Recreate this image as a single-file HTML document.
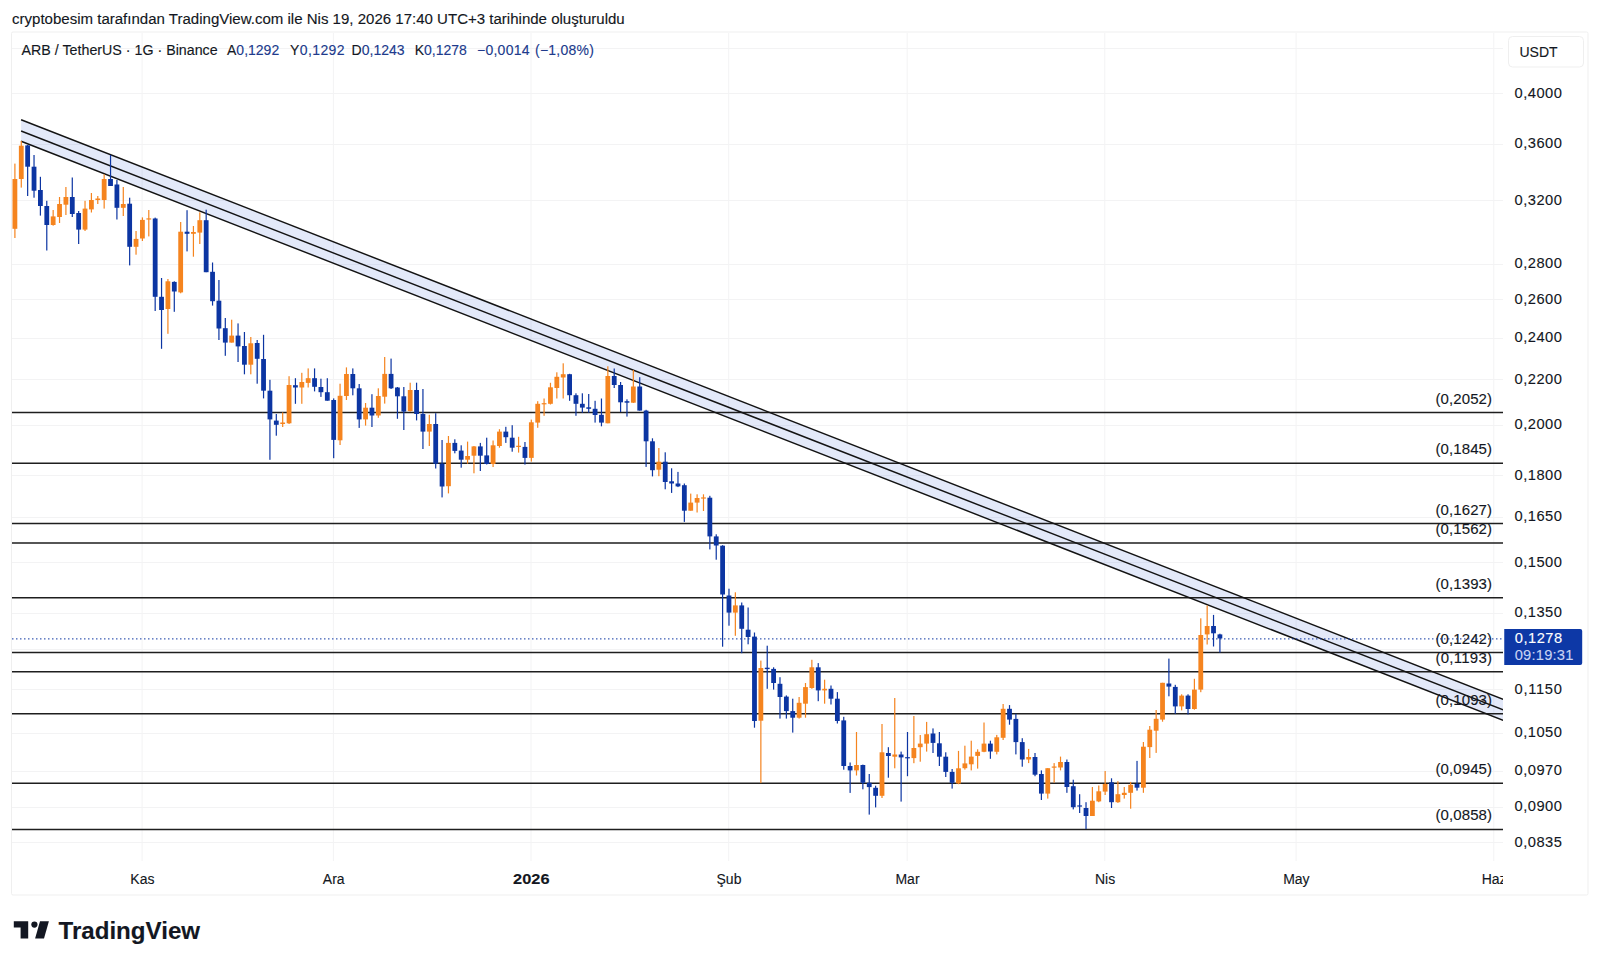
<!DOCTYPE html><html><head><meta charset="utf-8"><style>html,body{margin:0;padding:0;background:#fff;width:1600px;height:966px;overflow:hidden}svg{display:block}text{font-family:"Liberation Sans",sans-serif;stroke-width:0.12px}</style></head><body>
<svg width="1600" height="966" viewBox="0 0 1600 966">
<text x="12" y="24" font-size="14" fill="#131722" textLength="612.7" lengthAdjust="spacingAndGlyphs" stroke="#131722">cryptobesim tarafından TradingView.com ile Nis 19, 2026 17:40 UTC+3 tarihinde oluşturuldu</text>
<rect x="11.5" y="32" width="1576.5" height="863" rx="1.5" fill="#fff" stroke="#efefef" stroke-width="1"/>
<defs><clipPath id="pc"><rect x="12" y="33" width="1491" height="828"/></clipPath></defs>
<g clip-path="url(#pc)">
<line x1="12" y1="48.5" x2="1503" y2="48.5" stroke="#f3f3f4" stroke-width="1"/>
<line x1="12" y1="93.5" x2="1503" y2="93.5" stroke="#f3f3f4" stroke-width="1"/>
<line x1="12" y1="144.5" x2="1503" y2="144.5" stroke="#f3f3f4" stroke-width="1"/>
<line x1="12" y1="200.5" x2="1503" y2="200.5" stroke="#f3f3f4" stroke-width="1"/>
<line x1="12" y1="264.5" x2="1503" y2="264.5" stroke="#f3f3f4" stroke-width="1"/>
<line x1="12" y1="299.5" x2="1503" y2="299.5" stroke="#f3f3f4" stroke-width="1"/>
<line x1="12" y1="338.5" x2="1503" y2="338.5" stroke="#f3f3f4" stroke-width="1"/>
<line x1="12" y1="379.5" x2="1503" y2="379.5" stroke="#f3f3f4" stroke-width="1"/>
<line x1="12" y1="425.5" x2="1503" y2="425.5" stroke="#f3f3f4" stroke-width="1"/>
<line x1="12" y1="475.5" x2="1503" y2="475.5" stroke="#f3f3f4" stroke-width="1"/>
<line x1="12" y1="517.5" x2="1503" y2="517.5" stroke="#f3f3f4" stroke-width="1"/>
<line x1="12" y1="562.5" x2="1503" y2="562.5" stroke="#f3f3f4" stroke-width="1"/>
<line x1="12" y1="613.5" x2="1503" y2="613.5" stroke="#f3f3f4" stroke-width="1"/>
<line x1="12" y1="649.5" x2="1503" y2="649.5" stroke="#f3f3f4" stroke-width="1"/>
<line x1="12" y1="689.5" x2="1503" y2="689.5" stroke="#f3f3f4" stroke-width="1"/>
<line x1="12" y1="733.5" x2="1503" y2="733.5" stroke="#f3f3f4" stroke-width="1"/>
<line x1="12" y1="771.5" x2="1503" y2="771.5" stroke="#f3f3f4" stroke-width="1"/>
<line x1="12" y1="807.5" x2="1503" y2="807.5" stroke="#f3f3f4" stroke-width="1"/>
<line x1="12" y1="842.5" x2="1503" y2="842.5" stroke="#f3f3f4" stroke-width="1"/>
<line x1="142.1" y1="33" x2="142.1" y2="861" stroke="#f3f3f4" stroke-width="1"/>
<line x1="333.4" y1="33" x2="333.4" y2="861" stroke="#f3f3f4" stroke-width="1"/>
<line x1="531.0" y1="33" x2="531.0" y2="861" stroke="#f3f3f4" stroke-width="1"/>
<line x1="728.7" y1="33" x2="728.7" y2="861" stroke="#f3f3f4" stroke-width="1"/>
<line x1="907.2" y1="33" x2="907.2" y2="861" stroke="#f3f3f4" stroke-width="1"/>
<line x1="1104.8" y1="33" x2="1104.8" y2="861" stroke="#f3f3f4" stroke-width="1"/>
<line x1="1296.1" y1="33" x2="1296.1" y2="861" stroke="#f3f3f4" stroke-width="1"/>
<line x1="1493.8" y1="33" x2="1493.8" y2="861" stroke="#f3f3f4" stroke-width="1"/>
<polygon points="21.1,119.7 1503.1,699.2 1503.1,720.2 21.1,141.2" fill="#1848cc" fill-opacity="0.12"/>
<line x1="12" y1="412.48" x2="1503" y2="412.48" stroke="#1e1e1e" stroke-width="1.6"/>
<line x1="12" y1="463.32" x2="1503" y2="463.32" stroke="#1e1e1e" stroke-width="1.6"/>
<line x1="12" y1="523.45" x2="1503" y2="523.45" stroke="#1e1e1e" stroke-width="1.6"/>
<line x1="12" y1="542.95" x2="1503" y2="542.95" stroke="#1e1e1e" stroke-width="1.6"/>
<line x1="12" y1="597.70" x2="1503" y2="597.70" stroke="#1e1e1e" stroke-width="1.6"/>
<line x1="12" y1="652.57" x2="1503" y2="652.57" stroke="#1e1e1e" stroke-width="1.6"/>
<line x1="12" y1="671.82" x2="1503" y2="671.82" stroke="#1e1e1e" stroke-width="1.6"/>
<line x1="12" y1="713.68" x2="1503" y2="713.68" stroke="#1e1e1e" stroke-width="1.6"/>
<line x1="12" y1="783.25" x2="1503" y2="783.25" stroke="#1e1e1e" stroke-width="1.6"/>
<line x1="12" y1="829.44" x2="1503" y2="829.44" stroke="#1e1e1e" stroke-width="1.6"/>
<line x1="21.1" y1="119.7" x2="1503.1" y2="699.2" stroke="#131313" stroke-width="1.45"/>
<line x1="21.1" y1="131.0" x2="1503.1" y2="709.8" stroke="#131313" stroke-width="1.45"/>
<line x1="21.1" y1="141.2" x2="1503.1" y2="720.2" stroke="#131313" stroke-width="1.45"/>
<text x="1435.5" y="403.5" font-size="15" fill="#131722" textLength="56.5" lengthAdjust="spacing" stroke="#131722">(0,2052)</text>
<text x="1435.5" y="454.3" font-size="15" fill="#131722" textLength="56.5" lengthAdjust="spacing" stroke="#131722">(0,1845)</text>
<text x="1435.5" y="514.5" font-size="15" fill="#131722" textLength="56.5" lengthAdjust="spacing" stroke="#131722">(0,1627)</text>
<text x="1435.5" y="533.9" font-size="15" fill="#131722" textLength="56.5" lengthAdjust="spacing" stroke="#131722">(0,1562)</text>
<text x="1435.5" y="588.7" font-size="15" fill="#131722" textLength="56.5" lengthAdjust="spacing" stroke="#131722">(0,1393)</text>
<text x="1435.5" y="643.6" font-size="15" fill="#131722" textLength="56.5" lengthAdjust="spacing" stroke="#131722">(0,1242)</text>
<text x="1435.5" y="662.8" font-size="15" fill="#131722" textLength="56.5" lengthAdjust="spacing" stroke="#131722">(0,1193)</text>
<text x="1435.5" y="704.7" font-size="15" fill="#131722" textLength="56.5" lengthAdjust="spacing" stroke="#131722">(0,1093)</text>
<text x="1435.5" y="774.3" font-size="15" fill="#131722" textLength="56.5" lengthAdjust="spacing" stroke="#131722">(0,0945)</text>
<text x="1435.5" y="820.4" font-size="15" fill="#131722" textLength="56.5" lengthAdjust="spacing" stroke="#131722">(0,0858)</text>
<line x1="12" y1="638.9" x2="1503" y2="638.9" stroke="#0c35a2" stroke-width="1" stroke-dasharray="1.5 2.5"/>
<rect x="14.30" y="163.60" width="1.2" height="74.40" fill="#f5841f"/>
<rect x="12.50" y="179.00" width="4.8" height="49.80" fill="#f5841f"/>
<rect x="20.68" y="141.00" width="1.2" height="46.60" fill="#f5841f"/>
<rect x="18.88" y="145.70" width="4.8" height="33.30" fill="#f5841f"/>
<rect x="27.05" y="145.00" width="1.2" height="51.00" fill="#0c35a2"/>
<rect x="25.25" y="145.40" width="4.8" height="21.30" fill="#0c35a2"/>
<rect x="33.43" y="155.00" width="1.2" height="42.70" fill="#0c35a2"/>
<rect x="31.63" y="166.70" width="4.8" height="24.00" fill="#0c35a2"/>
<rect x="39.80" y="176.80" width="1.2" height="38.80" fill="#0c35a2"/>
<rect x="38.00" y="190.00" width="4.8" height="16.00" fill="#0c35a2"/>
<rect x="46.18" y="200.80" width="1.2" height="49.70" fill="#0c35a2"/>
<rect x="44.38" y="206.00" width="4.8" height="19.00" fill="#0c35a2"/>
<rect x="52.55" y="210.00" width="1.2" height="15.70" fill="#f5841f"/>
<rect x="50.75" y="216.40" width="4.8" height="8.60" fill="#f5841f"/>
<rect x="58.93" y="197.00" width="1.2" height="26.00" fill="#f5841f"/>
<rect x="57.13" y="204.00" width="4.8" height="13.00" fill="#f5841f"/>
<rect x="65.31" y="187.00" width="1.2" height="28.00" fill="#f5841f"/>
<rect x="63.51" y="197.00" width="4.8" height="7.70" fill="#f5841f"/>
<rect x="71.68" y="177.50" width="1.2" height="39.50" fill="#0c35a2"/>
<rect x="69.88" y="197.00" width="4.8" height="17.00" fill="#0c35a2"/>
<rect x="78.06" y="211.00" width="1.2" height="33.00" fill="#0c35a2"/>
<rect x="76.26" y="213.00" width="4.8" height="16.60" fill="#0c35a2"/>
<rect x="84.43" y="200.80" width="1.2" height="30.20" fill="#f5841f"/>
<rect x="82.63" y="208.60" width="4.8" height="21.00" fill="#f5841f"/>
<rect x="90.81" y="193.00" width="1.2" height="19.50" fill="#f5841f"/>
<rect x="89.01" y="200.00" width="4.8" height="9.40" fill="#f5841f"/>
<rect x="97.18" y="196.00" width="1.2" height="8.00" fill="#f5841f"/>
<rect x="95.38" y="198.50" width="4.8" height="1.50" fill="#f5841f"/>
<rect x="103.56" y="174.40" width="1.2" height="34.20" fill="#f5841f"/>
<rect x="101.76" y="179.00" width="4.8" height="21.00" fill="#f5841f"/>
<rect x="109.94" y="155.00" width="1.2" height="31.00" fill="#0c35a2"/>
<rect x="108.14" y="179.00" width="4.8" height="7.00" fill="#0c35a2"/>
<rect x="116.31" y="180.00" width="1.2" height="39.50" fill="#0c35a2"/>
<rect x="114.51" y="184.50" width="4.8" height="23.30" fill="#0c35a2"/>
<rect x="122.69" y="187.00" width="1.2" height="29.00" fill="#f5841f"/>
<rect x="120.89" y="204.00" width="4.8" height="3.80" fill="#f5841f"/>
<rect x="129.06" y="197.70" width="1.2" height="67.70" fill="#0c35a2"/>
<rect x="127.26" y="203.70" width="4.8" height="43.10" fill="#0c35a2"/>
<rect x="135.44" y="231.00" width="1.2" height="23.70" fill="#f5841f"/>
<rect x="133.64" y="238.90" width="4.8" height="7.90" fill="#f5841f"/>
<rect x="141.81" y="217.40" width="1.2" height="23.60" fill="#f5841f"/>
<rect x="140.01" y="219.90" width="4.8" height="18.60" fill="#f5841f"/>
<rect x="148.19" y="210.00" width="1.2" height="26.40" fill="#f5841f"/>
<rect x="146.39" y="218.35" width="4.8" height="1.20" fill="#f5841f"/>
<rect x="154.57" y="217.60" width="1.2" height="93.40" fill="#0c35a2"/>
<rect x="152.77" y="218.50" width="4.8" height="78.30" fill="#0c35a2"/>
<rect x="160.94" y="278.00" width="1.2" height="70.80" fill="#0c35a2"/>
<rect x="159.14" y="296.80" width="4.8" height="13.20" fill="#0c35a2"/>
<rect x="167.32" y="279.00" width="1.2" height="54.80" fill="#f5841f"/>
<rect x="165.52" y="281.30" width="4.8" height="27.70" fill="#f5841f"/>
<rect x="173.69" y="281.30" width="1.2" height="30.50" fill="#0c35a2"/>
<rect x="171.89" y="281.90" width="4.8" height="9.60" fill="#0c35a2"/>
<rect x="180.07" y="222.00" width="1.2" height="71.30" fill="#f5841f"/>
<rect x="178.27" y="231.70" width="4.8" height="60.70" fill="#f5841f"/>
<rect x="186.44" y="210.20" width="1.2" height="41.20" fill="#0c35a2"/>
<rect x="184.64" y="231.70" width="4.8" height="2.10" fill="#0c35a2"/>
<rect x="192.82" y="226.00" width="1.2" height="30.70" fill="#f5841f"/>
<rect x="191.02" y="232.00" width="4.8" height="1.80" fill="#f5841f"/>
<rect x="199.20" y="212.30" width="1.2" height="31.70" fill="#f5841f"/>
<rect x="197.40" y="220.20" width="4.8" height="12.40" fill="#f5841f"/>
<rect x="205.57" y="209.70" width="1.2" height="62.50" fill="#0c35a2"/>
<rect x="203.77" y="220.20" width="4.8" height="52.00" fill="#0c35a2"/>
<rect x="211.95" y="262.50" width="1.2" height="43.10" fill="#0c35a2"/>
<rect x="210.15" y="271.80" width="4.8" height="29.40" fill="#0c35a2"/>
<rect x="218.32" y="280.00" width="1.2" height="60.00" fill="#0c35a2"/>
<rect x="216.52" y="300.70" width="4.8" height="27.80" fill="#0c35a2"/>
<rect x="224.70" y="318.00" width="1.2" height="37.80" fill="#0c35a2"/>
<rect x="222.90" y="328.20" width="4.8" height="14.40" fill="#0c35a2"/>
<rect x="231.07" y="319.70" width="1.2" height="22.90" fill="#f5841f"/>
<rect x="229.27" y="335.60" width="4.8" height="7.00" fill="#f5841f"/>
<rect x="237.45" y="323.40" width="1.2" height="38.60" fill="#0c35a2"/>
<rect x="235.65" y="335.60" width="4.8" height="10.80" fill="#0c35a2"/>
<rect x="243.83" y="332.00" width="1.2" height="42.30" fill="#0c35a2"/>
<rect x="242.03" y="346.00" width="4.8" height="18.70" fill="#0c35a2"/>
<rect x="250.20" y="337.00" width="1.2" height="37.30" fill="#f5841f"/>
<rect x="248.40" y="343.30" width="4.8" height="21.40" fill="#f5841f"/>
<rect x="256.58" y="340.00" width="1.2" height="43.70" fill="#0c35a2"/>
<rect x="254.78" y="343.00" width="4.8" height="15.80" fill="#0c35a2"/>
<rect x="262.95" y="334.80" width="1.2" height="63.60" fill="#0c35a2"/>
<rect x="261.15" y="359.00" width="4.8" height="31.70" fill="#0c35a2"/>
<rect x="269.33" y="379.80" width="1.2" height="80.00" fill="#0c35a2"/>
<rect x="267.53" y="390.70" width="4.8" height="28.70" fill="#0c35a2"/>
<rect x="275.70" y="414.00" width="1.2" height="21.70" fill="#0c35a2"/>
<rect x="273.90" y="420.60" width="4.8" height="4.20" fill="#0c35a2"/>
<rect x="282.08" y="412.40" width="1.2" height="14.60" fill="#f5841f"/>
<rect x="280.28" y="422.50" width="4.8" height="1.50" fill="#f5841f"/>
<rect x="288.46" y="376.20" width="1.2" height="47.80" fill="#f5841f"/>
<rect x="286.66" y="385.00" width="4.8" height="38.30" fill="#f5841f"/>
<rect x="294.83" y="378.20" width="1.2" height="25.60" fill="#0c35a2"/>
<rect x="293.03" y="385.20" width="4.8" height="2.30" fill="#0c35a2"/>
<rect x="301.21" y="372.80" width="1.2" height="31.00" fill="#f5841f"/>
<rect x="299.41" y="382.00" width="4.8" height="5.50" fill="#f5841f"/>
<rect x="307.58" y="368.40" width="1.2" height="19.10" fill="#f5841f"/>
<rect x="305.78" y="378.20" width="4.8" height="4.70" fill="#f5841f"/>
<rect x="313.96" y="368.40" width="1.2" height="23.00" fill="#0c35a2"/>
<rect x="312.16" y="378.20" width="4.8" height="8.60" fill="#0c35a2"/>
<rect x="320.33" y="378.70" width="1.2" height="18.20" fill="#0c35a2"/>
<rect x="318.53" y="387.00" width="4.8" height="5.20" fill="#0c35a2"/>
<rect x="326.71" y="378.20" width="1.2" height="22.50" fill="#0c35a2"/>
<rect x="324.91" y="392.20" width="4.8" height="8.50" fill="#0c35a2"/>
<rect x="333.08" y="398.40" width="1.2" height="59.80" fill="#0c35a2"/>
<rect x="331.29" y="400.00" width="4.8" height="39.90" fill="#0c35a2"/>
<rect x="339.46" y="383.70" width="1.2" height="61.30" fill="#f5841f"/>
<rect x="337.66" y="395.80" width="4.8" height="44.50" fill="#f5841f"/>
<rect x="345.84" y="367.40" width="1.2" height="32.60" fill="#f5841f"/>
<rect x="344.04" y="374.00" width="4.8" height="22.00" fill="#f5841f"/>
<rect x="352.21" y="368.40" width="1.2" height="26.90" fill="#0c35a2"/>
<rect x="350.41" y="374.00" width="4.8" height="14.30" fill="#0c35a2"/>
<rect x="358.59" y="384.00" width="1.2" height="43.90" fill="#0c35a2"/>
<rect x="356.79" y="388.30" width="4.8" height="31.10" fill="#0c35a2"/>
<rect x="364.96" y="403.00" width="1.2" height="22.60" fill="#f5841f"/>
<rect x="363.16" y="407.70" width="4.8" height="11.70" fill="#f5841f"/>
<rect x="371.34" y="394.20" width="1.2" height="32.80" fill="#0c35a2"/>
<rect x="369.54" y="407.70" width="4.8" height="7.80" fill="#0c35a2"/>
<rect x="377.71" y="388.30" width="1.2" height="29.50" fill="#f5841f"/>
<rect x="375.91" y="396.00" width="4.8" height="19.50" fill="#f5841f"/>
<rect x="384.09" y="357.00" width="1.2" height="46.60" fill="#f5841f"/>
<rect x="382.29" y="373.90" width="4.8" height="22.80" fill="#f5841f"/>
<rect x="390.47" y="358.60" width="1.2" height="30.40" fill="#0c35a2"/>
<rect x="388.67" y="373.90" width="4.8" height="14.40" fill="#0c35a2"/>
<rect x="396.84" y="387.00" width="1.2" height="31.80" fill="#0c35a2"/>
<rect x="395.04" y="387.50" width="4.8" height="8.80" fill="#0c35a2"/>
<rect x="403.22" y="387.00" width="1.2" height="43.00" fill="#0c35a2"/>
<rect x="401.42" y="396.30" width="4.8" height="15.30" fill="#0c35a2"/>
<rect x="409.59" y="382.70" width="1.2" height="28.90" fill="#f5841f"/>
<rect x="407.79" y="390.00" width="4.8" height="21.10" fill="#f5841f"/>
<rect x="415.97" y="382.70" width="1.2" height="37.70" fill="#0c35a2"/>
<rect x="414.17" y="390.00" width="4.8" height="24.00" fill="#0c35a2"/>
<rect x="422.34" y="389.00" width="1.2" height="60.00" fill="#0c35a2"/>
<rect x="420.54" y="414.00" width="4.8" height="17.60" fill="#0c35a2"/>
<rect x="428.72" y="414.80" width="1.2" height="31.20" fill="#f5841f"/>
<rect x="426.92" y="424.00" width="4.8" height="7.60" fill="#f5841f"/>
<rect x="435.10" y="413.20" width="1.2" height="55.30" fill="#0c35a2"/>
<rect x="433.30" y="424.00" width="4.8" height="39.70" fill="#0c35a2"/>
<rect x="441.47" y="440.00" width="1.2" height="57.40" fill="#0c35a2"/>
<rect x="439.67" y="463.70" width="4.8" height="22.80" fill="#0c35a2"/>
<rect x="447.85" y="436.00" width="1.2" height="57.40" fill="#f5841f"/>
<rect x="446.05" y="442.90" width="4.8" height="43.30" fill="#f5841f"/>
<rect x="454.22" y="439.30" width="1.2" height="14.00" fill="#0c35a2"/>
<rect x="452.42" y="442.90" width="4.8" height="8.00" fill="#0c35a2"/>
<rect x="460.60" y="445.30" width="1.2" height="22.40" fill="#0c35a2"/>
<rect x="458.80" y="450.60" width="4.8" height="9.10" fill="#0c35a2"/>
<rect x="466.97" y="441.60" width="1.2" height="22.10" fill="#f5841f"/>
<rect x="465.17" y="456.00" width="4.8" height="3.70" fill="#f5841f"/>
<rect x="473.35" y="446.00" width="1.2" height="27.30" fill="#f5841f"/>
<rect x="471.55" y="446.40" width="4.8" height="9.30" fill="#f5841f"/>
<rect x="479.73" y="442.90" width="1.2" height="28.10" fill="#0c35a2"/>
<rect x="477.93" y="446.40" width="4.8" height="9.30" fill="#0c35a2"/>
<rect x="486.10" y="437.70" width="1.2" height="26.80" fill="#0c35a2"/>
<rect x="484.30" y="455.40" width="4.8" height="8.60" fill="#0c35a2"/>
<rect x="492.48" y="440.50" width="1.2" height="26.50" fill="#f5841f"/>
<rect x="490.68" y="445.30" width="4.8" height="18.70" fill="#f5841f"/>
<rect x="498.85" y="429.20" width="1.2" height="18.50" fill="#f5841f"/>
<rect x="497.05" y="431.60" width="4.8" height="14.40" fill="#f5841f"/>
<rect x="505.23" y="426.80" width="1.2" height="16.10" fill="#0c35a2"/>
<rect x="503.43" y="431.60" width="4.8" height="5.60" fill="#0c35a2"/>
<rect x="511.60" y="425.20" width="1.2" height="26.50" fill="#0c35a2"/>
<rect x="509.80" y="437.70" width="4.8" height="10.00" fill="#0c35a2"/>
<rect x="517.98" y="436.80" width="1.2" height="15.80" fill="#f5841f"/>
<rect x="516.18" y="445.75" width="4.8" height="1.20" fill="#f5841f"/>
<rect x="524.36" y="442.00" width="1.2" height="22.60" fill="#0c35a2"/>
<rect x="522.56" y="446.90" width="4.8" height="11.00" fill="#0c35a2"/>
<rect x="530.73" y="419.60" width="1.2" height="42.00" fill="#f5841f"/>
<rect x="528.93" y="422.30" width="4.8" height="35.60" fill="#f5841f"/>
<rect x="537.11" y="401.20" width="1.2" height="26.60" fill="#f5841f"/>
<rect x="535.31" y="403.80" width="4.8" height="18.80" fill="#f5841f"/>
<rect x="543.48" y="398.50" width="1.2" height="17.30" fill="#f5841f"/>
<rect x="541.68" y="403.15" width="4.8" height="1.20" fill="#f5841f"/>
<rect x="549.86" y="382.80" width="1.2" height="21.70" fill="#f5841f"/>
<rect x="548.06" y="387.30" width="4.8" height="16.50" fill="#f5841f"/>
<rect x="556.23" y="372.30" width="1.2" height="26.20" fill="#f5841f"/>
<rect x="554.43" y="376.80" width="4.8" height="11.20" fill="#f5841f"/>
<rect x="562.61" y="363.30" width="1.2" height="35.20" fill="#f5841f"/>
<rect x="560.81" y="374.20" width="4.8" height="3.30" fill="#f5841f"/>
<rect x="568.99" y="373.80" width="1.2" height="27.00" fill="#0c35a2"/>
<rect x="567.19" y="374.20" width="4.8" height="21.00" fill="#0c35a2"/>
<rect x="575.36" y="393.30" width="1.2" height="22.50" fill="#0c35a2"/>
<rect x="573.56" y="395.20" width="4.8" height="8.60" fill="#0c35a2"/>
<rect x="581.74" y="393.30" width="1.2" height="19.50" fill="#0c35a2"/>
<rect x="579.94" y="403.80" width="4.8" height="3.80" fill="#0c35a2"/>
<rect x="588.11" y="394.00" width="1.2" height="18.80" fill="#0c35a2"/>
<rect x="586.31" y="407.30" width="4.8" height="1.50" fill="#0c35a2"/>
<rect x="594.49" y="400.80" width="1.2" height="21.80" fill="#0c35a2"/>
<rect x="592.69" y="408.80" width="4.8" height="6.20" fill="#0c35a2"/>
<rect x="600.86" y="398.50" width="1.2" height="27.80" fill="#0c35a2"/>
<rect x="599.06" y="414.80" width="4.8" height="7.80" fill="#0c35a2"/>
<rect x="607.24" y="366.30" width="1.2" height="57.00" fill="#f5841f"/>
<rect x="605.44" y="376.00" width="4.8" height="47.30" fill="#f5841f"/>
<rect x="613.62" y="368.50" width="1.2" height="19.50" fill="#0c35a2"/>
<rect x="611.82" y="376.00" width="4.8" height="9.00" fill="#0c35a2"/>
<rect x="619.99" y="382.00" width="1.2" height="30.00" fill="#0c35a2"/>
<rect x="618.19" y="385.00" width="4.8" height="17.30" fill="#0c35a2"/>
<rect x="626.37" y="399.30" width="1.2" height="17.30" fill="#0c35a2"/>
<rect x="624.57" y="401.20" width="4.8" height="1.50" fill="#0c35a2"/>
<rect x="632.74" y="370.00" width="1.2" height="33.00" fill="#f5841f"/>
<rect x="630.94" y="386.50" width="4.8" height="16.20" fill="#f5841f"/>
<rect x="639.12" y="377.20" width="1.2" height="33.40" fill="#0c35a2"/>
<rect x="637.32" y="386.50" width="4.8" height="24.10" fill="#0c35a2"/>
<rect x="645.49" y="409.80" width="1.2" height="57.10" fill="#0c35a2"/>
<rect x="643.69" y="410.60" width="4.8" height="30.70" fill="#0c35a2"/>
<rect x="651.87" y="438.30" width="1.2" height="38.10" fill="#0c35a2"/>
<rect x="650.07" y="441.30" width="4.8" height="28.90" fill="#0c35a2"/>
<rect x="658.25" y="448.00" width="1.2" height="28.20" fill="#f5841f"/>
<rect x="656.45" y="461.70" width="4.8" height="8.00" fill="#f5841f"/>
<rect x="664.62" y="452.30" width="1.2" height="37.00" fill="#0c35a2"/>
<rect x="662.82" y="461.70" width="4.8" height="20.30" fill="#0c35a2"/>
<rect x="671.00" y="468.30" width="1.2" height="24.60" fill="#0c35a2"/>
<rect x="669.20" y="481.30" width="4.8" height="2.20" fill="#0c35a2"/>
<rect x="677.37" y="471.90" width="1.2" height="15.20" fill="#0c35a2"/>
<rect x="675.57" y="483.50" width="4.8" height="2.90" fill="#0c35a2"/>
<rect x="683.75" y="483.50" width="1.2" height="38.40" fill="#0c35a2"/>
<rect x="681.95" y="485.20" width="4.8" height="25.50" fill="#0c35a2"/>
<rect x="690.12" y="493.60" width="1.2" height="17.10" fill="#f5841f"/>
<rect x="688.32" y="502.60" width="4.8" height="8.10" fill="#f5841f"/>
<rect x="696.50" y="494.30" width="1.2" height="18.20" fill="#f5841f"/>
<rect x="694.70" y="498.00" width="4.8" height="4.60" fill="#f5841f"/>
<rect x="702.88" y="494.30" width="1.2" height="16.70" fill="#f5841f"/>
<rect x="701.08" y="497.40" width="4.8" height="1.20" fill="#f5841f"/>
<rect x="709.25" y="495.80" width="1.2" height="53.60" fill="#0c35a2"/>
<rect x="707.45" y="497.70" width="4.8" height="38.70" fill="#0c35a2"/>
<rect x="715.63" y="534.30" width="1.2" height="25.40" fill="#0c35a2"/>
<rect x="713.83" y="536.40" width="4.8" height="9.10" fill="#0c35a2"/>
<rect x="722.00" y="545.20" width="1.2" height="101.50" fill="#0c35a2"/>
<rect x="720.20" y="545.70" width="4.8" height="48.80" fill="#0c35a2"/>
<rect x="728.38" y="588.70" width="1.2" height="37.00" fill="#0c35a2"/>
<rect x="726.58" y="595.50" width="4.8" height="17.10" fill="#0c35a2"/>
<rect x="734.75" y="592.30" width="1.2" height="43.50" fill="#f5841f"/>
<rect x="732.95" y="605.40" width="4.8" height="7.20" fill="#f5841f"/>
<rect x="741.13" y="602.50" width="1.2" height="50.70" fill="#0c35a2"/>
<rect x="739.33" y="605.40" width="4.8" height="23.40" fill="#0c35a2"/>
<rect x="747.51" y="607.50" width="1.2" height="36.80" fill="#0c35a2"/>
<rect x="745.71" y="629.70" width="4.8" height="7.30" fill="#0c35a2"/>
<rect x="753.88" y="632.50" width="1.2" height="95.20" fill="#0c35a2"/>
<rect x="752.08" y="636.60" width="4.8" height="84.40" fill="#0c35a2"/>
<rect x="760.26" y="660.60" width="1.2" height="122.50" fill="#f5841f"/>
<rect x="758.46" y="668.00" width="4.8" height="52.70" fill="#f5841f"/>
<rect x="766.63" y="645.70" width="1.2" height="43.10" fill="#0c35a2"/>
<rect x="764.83" y="667.70" width="4.8" height="1.40" fill="#0c35a2"/>
<rect x="773.01" y="667.30" width="1.2" height="22.30" fill="#0c35a2"/>
<rect x="771.21" y="668.90" width="4.8" height="14.10" fill="#0c35a2"/>
<rect x="779.38" y="677.20" width="1.2" height="41.40" fill="#0c35a2"/>
<rect x="777.58" y="683.80" width="4.8" height="13.20" fill="#0c35a2"/>
<rect x="785.76" y="695.40" width="1.2" height="23.20" fill="#0c35a2"/>
<rect x="783.96" y="696.60" width="4.8" height="14.50" fill="#0c35a2"/>
<rect x="792.14" y="698.70" width="1.2" height="33.90" fill="#0c35a2"/>
<rect x="790.34" y="711.10" width="4.8" height="6.60" fill="#0c35a2"/>
<rect x="798.51" y="697.00" width="1.2" height="21.60" fill="#f5841f"/>
<rect x="796.71" y="702.80" width="4.8" height="14.90" fill="#f5841f"/>
<rect x="804.89" y="683.00" width="1.2" height="34.70" fill="#f5841f"/>
<rect x="803.09" y="687.10" width="4.8" height="16.60" fill="#f5841f"/>
<rect x="811.26" y="659.80" width="1.2" height="29.00" fill="#f5841f"/>
<rect x="809.46" y="667.30" width="4.8" height="20.70" fill="#f5841f"/>
<rect x="817.64" y="663.10" width="1.2" height="38.10" fill="#0c35a2"/>
<rect x="815.84" y="667.30" width="4.8" height="23.10" fill="#0c35a2"/>
<rect x="824.01" y="679.70" width="1.2" height="24.00" fill="#f5841f"/>
<rect x="822.21" y="688.80" width="4.8" height="1.60" fill="#f5841f"/>
<rect x="830.39" y="685.50" width="1.2" height="19.00" fill="#0c35a2"/>
<rect x="828.59" y="688.80" width="4.8" height="9.90" fill="#0c35a2"/>
<rect x="836.77" y="692.10" width="1.2" height="31.40" fill="#0c35a2"/>
<rect x="834.97" y="698.70" width="4.8" height="22.30" fill="#0c35a2"/>
<rect x="843.14" y="716.80" width="1.2" height="52.90" fill="#0c35a2"/>
<rect x="841.34" y="720.40" width="4.8" height="45.60" fill="#0c35a2"/>
<rect x="849.52" y="762.50" width="1.2" height="30.40" fill="#0c35a2"/>
<rect x="847.72" y="766.00" width="4.8" height="4.40" fill="#0c35a2"/>
<rect x="855.89" y="732.00" width="1.2" height="43.50" fill="#f5841f"/>
<rect x="854.09" y="765.00" width="4.8" height="5.40" fill="#f5841f"/>
<rect x="862.27" y="764.60" width="1.2" height="24.70" fill="#0c35a2"/>
<rect x="860.47" y="765.00" width="4.8" height="17.80" fill="#0c35a2"/>
<rect x="868.64" y="774.00" width="1.2" height="40.60" fill="#0c35a2"/>
<rect x="866.84" y="782.80" width="4.8" height="4.30" fill="#0c35a2"/>
<rect x="875.02" y="785.70" width="1.2" height="21.70" fill="#0c35a2"/>
<rect x="873.22" y="787.80" width="4.8" height="8.00" fill="#0c35a2"/>
<rect x="881.40" y="724.00" width="1.2" height="74.00" fill="#f5841f"/>
<rect x="879.60" y="752.30" width="4.8" height="43.50" fill="#f5841f"/>
<rect x="887.77" y="747.20" width="1.2" height="30.50" fill="#0c35a2"/>
<rect x="885.97" y="753.00" width="4.8" height="3.00" fill="#0c35a2"/>
<rect x="894.15" y="698.00" width="1.2" height="70.30" fill="#f5841f"/>
<rect x="892.35" y="754.50" width="4.8" height="2.20" fill="#f5841f"/>
<rect x="900.52" y="751.60" width="1.2" height="50.00" fill="#0c35a2"/>
<rect x="898.72" y="754.50" width="4.8" height="2.90" fill="#0c35a2"/>
<rect x="906.90" y="732.00" width="1.2" height="44.20" fill="#0c35a2"/>
<rect x="905.10" y="757.15" width="4.8" height="1.20" fill="#0c35a2"/>
<rect x="913.27" y="716.00" width="1.2" height="47.20" fill="#f5841f"/>
<rect x="911.47" y="748.00" width="4.8" height="10.10" fill="#f5841f"/>
<rect x="919.65" y="735.00" width="1.2" height="26.70" fill="#f5841f"/>
<rect x="917.85" y="743.60" width="4.8" height="3.60" fill="#f5841f"/>
<rect x="926.03" y="721.90" width="1.2" height="29.70" fill="#f5841f"/>
<rect x="924.23" y="734.20" width="4.8" height="9.40" fill="#f5841f"/>
<rect x="932.40" y="728.40" width="1.2" height="24.60" fill="#0c35a2"/>
<rect x="930.60" y="733.50" width="4.8" height="9.40" fill="#0c35a2"/>
<rect x="938.78" y="732.00" width="1.2" height="34.00" fill="#0c35a2"/>
<rect x="936.98" y="743.30" width="4.8" height="13.40" fill="#0c35a2"/>
<rect x="945.15" y="752.30" width="1.2" height="24.70" fill="#0c35a2"/>
<rect x="943.35" y="756.70" width="4.8" height="15.20" fill="#0c35a2"/>
<rect x="951.53" y="769.00" width="1.2" height="19.60" fill="#0c35a2"/>
<rect x="949.73" y="771.90" width="4.8" height="10.90" fill="#0c35a2"/>
<rect x="957.90" y="750.90" width="1.2" height="33.30" fill="#f5841f"/>
<rect x="956.10" y="768.30" width="4.8" height="15.20" fill="#f5841f"/>
<rect x="964.28" y="745.70" width="1.2" height="23.90" fill="#f5841f"/>
<rect x="962.48" y="763.40" width="4.8" height="4.80" fill="#f5841f"/>
<rect x="970.65" y="740.70" width="1.2" height="29.70" fill="#f5841f"/>
<rect x="968.86" y="756.60" width="4.8" height="7.70" fill="#f5841f"/>
<rect x="977.03" y="749.30" width="1.2" height="19.30" fill="#f5841f"/>
<rect x="975.23" y="751.80" width="4.8" height="4.10" fill="#f5841f"/>
<rect x="983.41" y="722.50" width="1.2" height="29.70" fill="#f5841f"/>
<rect x="981.61" y="743.60" width="4.8" height="8.20" fill="#f5841f"/>
<rect x="989.78" y="740.70" width="1.2" height="18.10" fill="#0c35a2"/>
<rect x="987.98" y="743.60" width="4.8" height="7.90" fill="#0c35a2"/>
<rect x="996.16" y="734.90" width="1.2" height="19.50" fill="#f5841f"/>
<rect x="994.36" y="737.30" width="4.8" height="14.50" fill="#f5841f"/>
<rect x="1002.53" y="704.00" width="1.2" height="36.00" fill="#f5841f"/>
<rect x="1000.73" y="708.80" width="4.8" height="29.00" fill="#f5841f"/>
<rect x="1008.91" y="705.10" width="1.2" height="19.60" fill="#0c35a2"/>
<rect x="1007.11" y="708.80" width="4.8" height="10.80" fill="#0c35a2"/>
<rect x="1015.28" y="713.80" width="1.2" height="40.60" fill="#0c35a2"/>
<rect x="1013.48" y="718.90" width="4.8" height="23.20" fill="#0c35a2"/>
<rect x="1021.66" y="738.20" width="1.2" height="28.50" fill="#0c35a2"/>
<rect x="1019.86" y="742.10" width="4.8" height="17.40" fill="#0c35a2"/>
<rect x="1028.04" y="748.90" width="1.2" height="14.20" fill="#f5841f"/>
<rect x="1026.24" y="757.00" width="4.8" height="2.50" fill="#f5841f"/>
<rect x="1034.41" y="753.00" width="1.2" height="23.20" fill="#0c35a2"/>
<rect x="1032.61" y="757.00" width="4.8" height="17.70" fill="#0c35a2"/>
<rect x="1040.79" y="770.40" width="1.2" height="29.60" fill="#0c35a2"/>
<rect x="1038.99" y="774.00" width="4.8" height="19.60" fill="#0c35a2"/>
<rect x="1047.16" y="768.20" width="1.2" height="30.40" fill="#f5841f"/>
<rect x="1045.36" y="768.20" width="4.8" height="25.40" fill="#f5841f"/>
<rect x="1053.54" y="763.10" width="1.2" height="19.60" fill="#f5841f"/>
<rect x="1051.74" y="766.50" width="4.8" height="1.20" fill="#f5841f"/>
<rect x="1059.91" y="756.60" width="1.2" height="13.80" fill="#f5841f"/>
<rect x="1058.11" y="762.00" width="4.8" height="5.50" fill="#f5841f"/>
<rect x="1066.29" y="759.50" width="1.2" height="33.30" fill="#0c35a2"/>
<rect x="1064.49" y="762.00" width="4.8" height="25.00" fill="#0c35a2"/>
<rect x="1072.67" y="779.70" width="1.2" height="29.70" fill="#0c35a2"/>
<rect x="1070.87" y="786.20" width="4.8" height="21.00" fill="#0c35a2"/>
<rect x="1079.04" y="794.20" width="1.2" height="18.80" fill="#0c35a2"/>
<rect x="1077.24" y="805.40" width="4.8" height="1.20" fill="#0c35a2"/>
<rect x="1085.42" y="802.20" width="1.2" height="26.80" fill="#0c35a2"/>
<rect x="1083.62" y="808.00" width="4.8" height="8.00" fill="#0c35a2"/>
<rect x="1091.79" y="787.00" width="1.2" height="29.00" fill="#f5841f"/>
<rect x="1089.99" y="800.70" width="4.8" height="15.30" fill="#f5841f"/>
<rect x="1098.17" y="785.50" width="1.2" height="16.70" fill="#f5841f"/>
<rect x="1096.37" y="791.30" width="4.8" height="10.10" fill="#f5841f"/>
<rect x="1104.54" y="771.00" width="1.2" height="24.00" fill="#f5841f"/>
<rect x="1102.74" y="784.00" width="4.8" height="7.60" fill="#f5841f"/>
<rect x="1110.92" y="778.30" width="1.2" height="29.70" fill="#0c35a2"/>
<rect x="1109.12" y="782.30" width="4.8" height="19.90" fill="#0c35a2"/>
<rect x="1117.30" y="781.20" width="1.2" height="21.70" fill="#f5841f"/>
<rect x="1115.50" y="794.20" width="4.8" height="8.00" fill="#f5841f"/>
<rect x="1123.67" y="787.00" width="1.2" height="11.60" fill="#f5841f"/>
<rect x="1121.87" y="792.80" width="4.8" height="2.20" fill="#f5841f"/>
<rect x="1130.05" y="781.90" width="1.2" height="26.80" fill="#f5841f"/>
<rect x="1128.25" y="784.80" width="4.8" height="8.00" fill="#f5841f"/>
<rect x="1136.42" y="760.90" width="1.2" height="29.70" fill="#0c35a2"/>
<rect x="1134.62" y="784.00" width="4.8" height="3.70" fill="#0c35a2"/>
<rect x="1142.80" y="742.00" width="1.2" height="50.80" fill="#f5841f"/>
<rect x="1141.00" y="746.70" width="4.8" height="41.00" fill="#f5841f"/>
<rect x="1149.17" y="726.00" width="1.2" height="32.00" fill="#f5841f"/>
<rect x="1147.37" y="729.70" width="4.8" height="17.40" fill="#f5841f"/>
<rect x="1155.55" y="710.00" width="1.2" height="42.90" fill="#f5841f"/>
<rect x="1153.75" y="718.80" width="4.8" height="11.90" fill="#f5841f"/>
<rect x="1161.93" y="682.80" width="1.2" height="38.90" fill="#f5841f"/>
<rect x="1160.13" y="682.80" width="4.8" height="36.80" fill="#f5841f"/>
<rect x="1168.30" y="658.60" width="1.2" height="37.70" fill="#0c35a2"/>
<rect x="1166.50" y="683.50" width="4.8" height="3.10" fill="#0c35a2"/>
<rect x="1174.68" y="684.80" width="1.2" height="29.00" fill="#0c35a2"/>
<rect x="1172.88" y="686.90" width="4.8" height="19.50" fill="#0c35a2"/>
<rect x="1181.05" y="694.30" width="1.2" height="16.10" fill="#f5841f"/>
<rect x="1179.25" y="695.60" width="4.8" height="10.80" fill="#f5841f"/>
<rect x="1187.43" y="694.30" width="1.2" height="20.10" fill="#0c35a2"/>
<rect x="1185.63" y="695.60" width="4.8" height="13.40" fill="#0c35a2"/>
<rect x="1193.80" y="678.80" width="1.2" height="30.90" fill="#f5841f"/>
<rect x="1192.00" y="689.60" width="4.8" height="19.40" fill="#f5841f"/>
<rect x="1200.18" y="618.30" width="1.2" height="73.90" fill="#f5841f"/>
<rect x="1198.38" y="635.00" width="4.8" height="54.60" fill="#f5841f"/>
<rect x="1206.56" y="605.50" width="1.2" height="39.00" fill="#f5841f"/>
<rect x="1204.76" y="626.00" width="4.8" height="8.40" fill="#f5841f"/>
<rect x="1212.93" y="614.90" width="1.2" height="31.60" fill="#0c35a2"/>
<rect x="1211.13" y="626.00" width="4.8" height="7.30" fill="#0c35a2"/>
<rect x="1219.31" y="633.70" width="1.2" height="18.90" fill="#0c35a2"/>
<rect x="1217.51" y="634.40" width="4.8" height="4.00" fill="#0c35a2"/>
</g>
<text x="1514.6" y="97.8" font-size="14.7" fill="#131722" textLength="47.3" lengthAdjust="spacing" stroke="#131722">0,4000</text>
<text x="1514.6" y="148.2" font-size="14.7" fill="#131722" textLength="47.3" lengthAdjust="spacing" stroke="#131722">0,3600</text>
<text x="1514.6" y="204.5" font-size="14.7" fill="#131722" textLength="47.3" lengthAdjust="spacing" stroke="#131722">0,3200</text>
<text x="1514.6" y="268.4" font-size="14.7" fill="#131722" textLength="47.3" lengthAdjust="spacing" stroke="#131722">0,2800</text>
<text x="1514.6" y="303.8" font-size="14.7" fill="#131722" textLength="47.3" lengthAdjust="spacing" stroke="#131722">0,2600</text>
<text x="1514.6" y="342.1" font-size="14.7" fill="#131722" textLength="47.3" lengthAdjust="spacing" stroke="#131722">0,2400</text>
<text x="1514.6" y="383.7" font-size="14.7" fill="#131722" textLength="47.3" lengthAdjust="spacing" stroke="#131722">0,2200</text>
<text x="1514.6" y="429.3" font-size="14.7" fill="#131722" textLength="47.3" lengthAdjust="spacing" stroke="#131722">0,2000</text>
<text x="1514.6" y="479.6" font-size="14.7" fill="#131722" textLength="47.3" lengthAdjust="spacing" stroke="#131722">0,1800</text>
<text x="1514.6" y="521.2" font-size="14.7" fill="#131722" textLength="47.3" lengthAdjust="spacing" stroke="#131722">0,1650</text>
<text x="1514.6" y="566.8" font-size="14.7" fill="#131722" textLength="47.3" lengthAdjust="spacing" stroke="#131722">0,1500</text>
<text x="1514.6" y="617.2" font-size="14.7" fill="#131722" textLength="47.3" lengthAdjust="spacing" stroke="#131722">0,1350</text>
<text x="1514.6" y="693.9" font-size="14.7" fill="#131722" textLength="47.3" lengthAdjust="spacing" stroke="#131722">0,1150</text>
<text x="1514.6" y="737.4" font-size="14.7" fill="#131722" textLength="47.3" lengthAdjust="spacing" stroke="#131722">0,1050</text>
<text x="1514.6" y="775.3" font-size="14.7" fill="#131722" textLength="47.3" lengthAdjust="spacing" stroke="#131722">0,0970</text>
<text x="1514.6" y="811.1" font-size="14.7" fill="#131722" textLength="47.3" lengthAdjust="spacing" stroke="#131722">0,0900</text>
<text x="1514.6" y="846.9" font-size="14.7" fill="#131722" textLength="47.3" lengthAdjust="spacing" stroke="#131722">0,0835</text>
<rect x="1508.5" y="36.5" width="75" height="30.5" rx="4" fill="#fff" stroke="#efefef"/>
<text x="1519.5" y="57" font-size="14" fill="#131722" stroke="#131722">USDT</text>
<path d="M1504.25,629 H1580.2 Q1582.2,629 1582.2,631 V662.9 Q1582.2,664.9 1580.2,664.9 H1504.25 Z" fill="#0d38a6"/>
<text x="1514.7" y="643.2" font-size="14.7" fill="#fff" textLength="47.5" lengthAdjust="spacing" stroke="#fff">0,1278</text>
<text x="1514.7" y="659.8" font-size="14.7" fill="#c9d3f3" textLength="58.7" lengthAdjust="spacing" stroke="#c9d3f3">09:19:31</text>
<text x="142.4" y="884.4" font-size="14" fill="#131722" text-anchor="middle" stroke="#131722">Kas</text>
<text x="333.7" y="884.4" font-size="14" fill="#131722" text-anchor="middle" stroke="#131722">Ara</text>
<text x="531.3" y="884.4" font-size="14" fill="#131722" text-anchor="middle" font-weight="bold" textLength="36.4" lengthAdjust="spacingAndGlyphs" stroke="#131722">2026</text>
<text x="729.0" y="884.4" font-size="14" fill="#131722" text-anchor="middle" stroke="#131722">Şub</text>
<text x="907.5" y="884.4" font-size="14" fill="#131722" text-anchor="middle" stroke="#131722">Mar</text>
<text x="1105.1" y="884.4" font-size="14" fill="#131722" text-anchor="middle" stroke="#131722">Nis</text>
<text x="1296.4" y="884.4" font-size="14" fill="#131722" text-anchor="middle" stroke="#131722">May</text>
<svg x="1470" y="860" width="33" height="35"><text x="24.1" y="24.4" font-size="14" fill="#131722" text-anchor="middle" stroke="#131722">Haz</text></svg>
<text x="21.6" y="55" font-size="14" fill="#131722" textLength="196" lengthAdjust="spacingAndGlyphs" stroke="#131722">ARB / TetherUS · 1G · Binance</text>
<text x="227" y="55" font-size="14" fill="#131722" stroke="#131722">A<tspan fill="#203a8c" stroke="#203a8c">0,1292</tspan></text>
<text x="290" y="55" font-size="14" fill="#131722" textLength="54.6" lengthAdjust="spacing" stroke="#131722">Y<tspan fill="#203a8c" stroke="#203a8c">0,1292</tspan></text>
<text x="351.6" y="55" font-size="14" fill="#131722" stroke="#131722">D<tspan fill="#203a8c" stroke="#203a8c">0,1243</tspan></text>
<text x="414.7" y="55" font-size="14" fill="#131722" textLength="52.1" lengthAdjust="spacing" stroke="#131722">K<tspan fill="#203a8c" stroke="#203a8c">0,1278</tspan></text>
<text x="477" y="55" font-size="14" fill="#203a8c" textLength="52.5" lengthAdjust="spacing" stroke="#203a8c">−0,0014</text>
<text x="535" y="55" font-size="14" fill="#203a8c" textLength="58.9" lengthAdjust="spacing" stroke="#203a8c">(−1,08%)</text>
<g fill="#131722"><path d="M13.8,921.3 H28.2 V938.5 H20.6 V927.5 H13.8 Z"/><circle cx="34.4" cy="924.6" r="3.1"/><path d="M40,921.3 H48.9 L44,938.5 H35.1 Z"/></g>
<text x="58.5" y="938.5" font-size="23" font-weight="bold" fill="#131722" textLength="141.6" lengthAdjust="spacingAndGlyphs" stroke="#131722">TradingView</text>
</svg></body></html>
